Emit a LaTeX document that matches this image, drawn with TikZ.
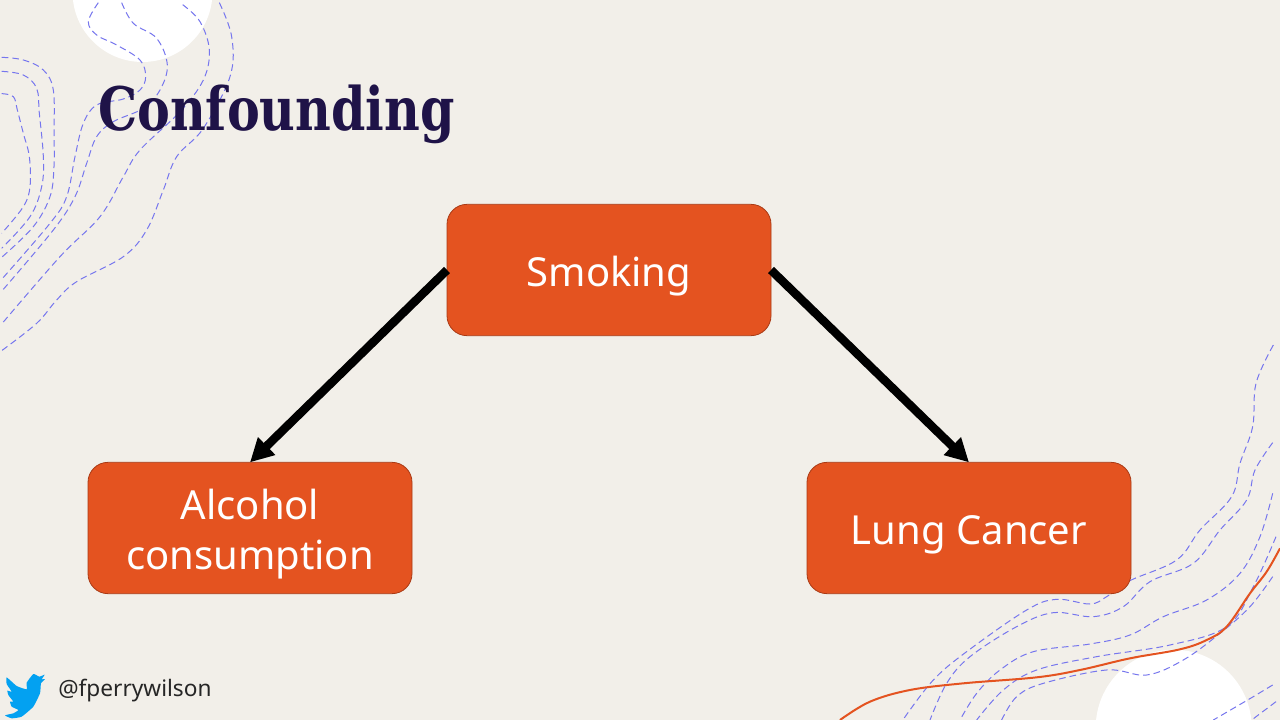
\documentclass[tikz,border=0pt]{standalone}
\usepackage{fontspec}
\setmainfont{Noto Sans}
\newfontfamily\titlefont{DejaVu Serif}
\usetikzlibrary{arrows.meta}
\definecolor{paper}{HTML}{F2EFE9}
\definecolor{boxfill}{HTML}{E45320}
\definecolor{boxline}{HTML}{A93A15}
\definecolor{wave}{HTML}{7676EE}
\definecolor{ink}{HTML}{1F1348}
\definecolor{birdblue}{HTML}{03A1F1}
\begin{document}
\begin{tikzpicture}[x=0.75pt,y=-0.75pt]
\tikzstyle{box}=[draw=boxline,fill=boxfill,line width=0.6pt,rounded corners=15pt,minimum width=243pt,minimum height=98.5pt,outer sep=0pt,inner sep=0pt,text=white,align=center,font=\fontsize{30}{38}\selectfont]
\tikzstyle{wavy}=[draw=wave,line width=0.75pt,dash pattern=on 5pt off 3pt]
\tikzstyle{link}=[draw=black,line width=6.4pt,-{Triangle[length=17.5pt,width=17.5pt]}]
\useasboundingbox (0,0) rectangle (1280,720);
\clip (0,0) rectangle (1280,720);
\fill[paper] (0,0) rectangle (1280,720);
\fill[white] (142.5,-8) circle (70);
\fill[white] (1173.7,727.7) circle (78);
% waves, top left (read off at three times size)
\begin{scope}[scale=1/3]
\draw[wavy] plot[smooth,tension=0.6] coordinates {(5,172) (70,180) (130,210) (160,270) (162,400) (162,500) (150,590) (100,680) (5,772)};
\draw[wavy] plot[smooth,tension=0.6] coordinates {(5,214) (70,225) (110,265) (118,340) (130,470) (125,560) (90,650) (5,745)};
\draw[wavy] plot[smooth,tension=0.6] coordinates {(5,281) (40,290) (52,330) (70,400) (88,470) (90,560) (70,620) (5,700)};
\draw[wavy] plot[smooth,tension=0.6] coordinates {(295,8) (265,65) (290,105) (350,135) (420,180) (437,230) (420,270) (370,297) (290,315) (250,370) (225,470) (200,590) (150,670) (5,838)};
\draw[wavy] plot[smooth,tension=0.6] coordinates {(365,8) (400,70) (470,115) (502,195) (480,270) (430,325) (340,365) (290,410) (260,490) (225,590) (160,690) (10,868)};
\draw[wavy] plot[smooth,tension=0.6] coordinates {(548,14) (600,65) (628,150) (610,240) (540,335) (420,450) (370,530) (300,650) (180,770) (5,972)};
\draw[wavy] plot[smooth,tension=0.6] coordinates {(658,8) (695,110) (690,230) (610,385) (530,470) (490,570) (440,690) (370,770) (230,845) (170,900) (110,970) (5,1052)};
\end{scope}
% waves, bottom right
\begin{scope}[shift={(830,340)},scale=1/3]
\draw[wavy] plot[smooth,tension=0.6] coordinates {(1330,15) (1278,130) (1268,260) (1230,370) (1205,470) (1110,570) (1040,660) (900,722) (830,770) (780,792) (680,778) (590,810) (410,935) (310,1020) (222,1135)};
\draw[wavy] plot[smooth,tension=0.6] coordinates {(1328,308) (1275,390) (1250,480) (1170,570) (1090,670) (960,725) (880,800) (790,830) (670,818) (560,860) (420,950) (350,1030) (300,1140)};
\draw[wavy] plot[smooth,tension=0.6] coordinates {(1328,460) (1290,590) (1230,700) (1130,780) (1000,830) (900,885) (780,912) (610,935) (510,990) (440,1060) (390,1140)};
\draw[wavy] plot[smooth,tension=0.6] coordinates {(1338,590) (1270,740) (1190,860) (1020,915) (800,950) (620,990) (520,1050) (440,1140)};
\draw[wavy] plot[smooth,tension=0.6] coordinates {(1328,710) (1260,800) (1170,880) (1060,960) (950,1005) (830,990) (640,1030) (560,1070) (515,1140)};
\draw[wavy] (1328,1035) -- (1270,1070) -- (1150,1140);
\draw[wavy] (1338,1085) -- (1265,1140);
\draw[boxfill,line width=1.5pt] plot[smooth,tension=0.6] coordinates {(30,1140) (120,1085) (240,1050) (400,1030) (620,1012) (750,990) (900,955) (1050,928) (1130,900) (1190,860) (1260,760) (1310,695) (1350,625)};
\end{scope}
% title and boxes
\node[anchor=west,text=ink,inner sep=0pt,xscale=0.82,font=\titlefont\bfseries\fontsize{45}{54}\selectfont] (title) at (98,114) {Confounding};
\node[box] (smoking) at (609,270) {\rule{0pt}{32pt}Smoking};
\node[box] (alcohol) at (250,528) {\rule{0pt}{32pt}Alcohol\\consumption};
\node[box] (lungcancer) at (969,528) {\rule{0pt}{32pt}Lung Cancer};
\draw[link] (smoking.west) -- (alcohol.north);
\draw[link] (smoking.east) -- (lungcancer.north);
% handle, bottom left
\begin{scope}[shift={(0,660)},scale=1/3]
\fill[birdblue] plot[smooth cycle,tension=0.25] coordinates {(100,42) (118,50) (134,44) (125,58) (135,57) (123,70) (120,100) (100,140) (65,170) (35,175) (15,166) (40,160) (55,150) (35,140) (30,125) (40,125) (25,105) (22,92) (35,95) (20,72) (20,52) (50,78) (80,88) (80,68)};
\end{scope}
\node[anchor=west,inner sep=0pt,text=black!85,font=\fontsize{17}{20}\selectfont] (handle) at (58,691) {@fperrywilson};
\end{tikzpicture}
\end{document}
